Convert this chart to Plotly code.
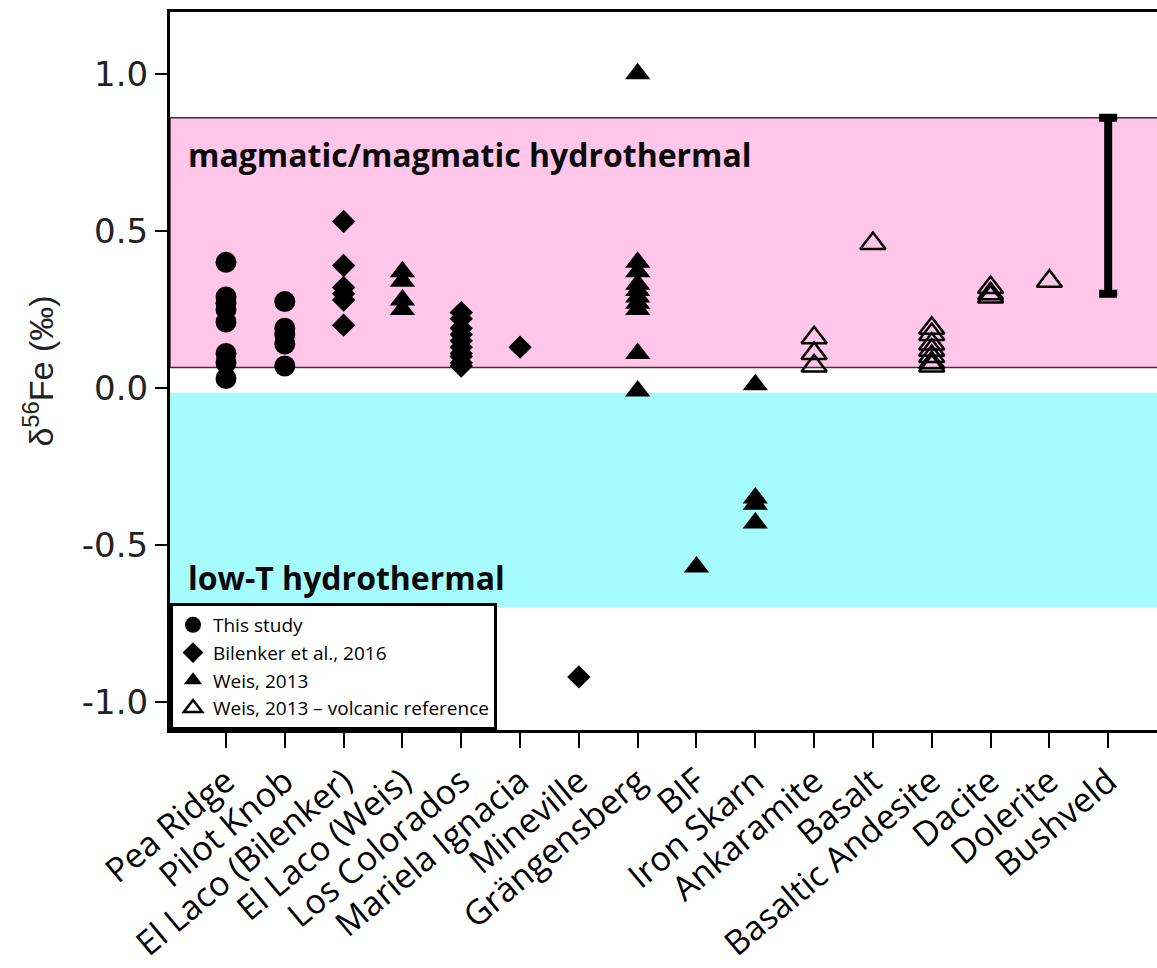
import plotly.graph_objects as go

categories = ["Pea Ridge", "Pilot Knob", "El Laco (Bilenker)", "El Laco (Weis)",
              "Los Colorados", "Mariela Ignacia", "Mineville", "Grängensberg", "BIF",
              "Iron Skarn", "Ankaramite", "Basalt", "Basaltic Andesite", "Dacite",
              "Dolerite", "Bushveld"]

# This study (filled circles)
study_pea_ridge = [0.40, 0.29, 0.27, 0.25, 0.21, 0.11, 0.08, 0.03]
study_pilot_knob = [0.275, 0.19, 0.17, 0.14, 0.07]

# Bilenker et al., 2016 (filled diamonds)
bil_el_laco = [0.53, 0.39, 0.32, 0.30, 0.28, 0.20]
bil_los_colorados = [0.24, 0.22, 0.19, 0.17, 0.15, 0.13, 0.11, 0.10, 0.08, 0.07]
bil_mariela = [0.13]
bil_mineville = [-0.92]

# Weis, 2013 (filled triangles)
weis_el_laco = [0.37, 0.34, 0.28, 0.25]
weis_grangesberg = [1.00, 0.40, 0.37, 0.33, 0.31, 0.29, 0.27, 0.25, 0.11, -0.01]
weis_bif = [-0.57]
weis_iron_skarn = [0.01, -0.35, -0.37, -0.43]

# Weis, 2013 - volcanic reference (open triangles)
volc_ankaramite = [0.16, 0.11, 0.07]
volc_basalt = [0.46]
volc_bas_andesite = [0.19, 0.17, 0.14, 0.12, 0.10, 0.08, 0.07]
volc_dacite = [0.32, 0.30, 0.29]
volc_dolerite = [0.34]

# Bushveld range
bushveld_low, bushveld_high = 0.30, 0.86

# Reference fields
magmatic_band = [0.065, 0.86]
lowT_band = [-0.70, -0.015]


def expand(pairs):
    xs, ys = [], []
    for cat, vals in pairs:
        xs += [cat] * len(vals)
        ys += list(vals)
    return xs, ys


fig = go.Figure()

x1, y1 = expand([("Pea Ridge", study_pea_ridge), ("Pilot Knob", study_pilot_knob)])
x2, y2 = expand([("El Laco (Bilenker)", bil_el_laco), ("Los Colorados", bil_los_colorados),
                 ("Mariela Ignacia", bil_mariela), ("Mineville", bil_mineville)])
x3, y3 = expand([("El Laco (Weis)", weis_el_laco), ("Grängensberg", weis_grangesberg),
                 ("BIF", weis_bif), ("Iron Skarn", weis_iron_skarn)])
x4, y4 = expand([("Ankaramite", volc_ankaramite), ("Basalt", volc_basalt),
                 ("Basaltic Andesite", volc_bas_andesite), ("Dacite", volc_dacite),
                 ("Dolerite", volc_dolerite)])

fig.add_trace(go.Scatter(x=x1, y=y1, mode="markers", name="This study",
                         marker=dict(symbol="circle", size=21, color="black")))
fig.add_trace(go.Scatter(x=x2, y=y2, mode="markers", name="Bilenker et al., 2016",
                         marker=dict(symbol="diamond", size=18, color="black")))
fig.add_trace(go.Scatter(x=x3, y=y3, mode="markers", name="Weis, 2013",
                         marker=dict(symbol="triangle-up", size=22, color="black")))
fig.add_trace(go.Scatter(x=x4, y=y4, mode="markers", name="Weis, 2013 – volcanic reference",
                         marker=dict(symbol="triangle-up-open", size=22, color="black",
                                     line=dict(width=2.5, color="black"))))

fig.add_trace(go.Scatter(x=["Bushveld"], y=[bushveld_low], mode="markers", showlegend=False,
                         marker=dict(size=1, color="rgba(0,0,0,0)"),
                         error_y=dict(type="data", symmetric=False,
                                      array=[bushveld_high - bushveld_low], arrayminus=[0],
                                      color="black", thickness=8, width=9)))

# bands
fig.add_shape(type="rect", xref="paper", yref="y", x0=0, x1=1.01,
              y0=magmatic_band[0], y1=magmatic_band[1], fillcolor="#FFC6EA",
              line=dict(color="#4a2a3a", width=1.5), layer="below")
fig.add_shape(type="rect", xref="paper", yref="y", x0=0, x1=1.01,
              y0=lowT_band[0], y1=lowT_band[1], fillcolor="#A6FBFD",
              line=dict(width=0), layer="below")

fig.add_annotation(text="<b>magmatic/magmatic hydrothermal</b>", xref="paper", yref="y",
                   x=0.016, y=0.742, xanchor="left", yanchor="middle", showarrow=False,
                   font=dict(family="Open Sans", size=32, color="#0a0a0a"))
fig.add_annotation(text="<b>low-T hydrothermal</b>", xref="paper", yref="y",
                   x=0.016, y=-0.605, xanchor="left", yanchor="middle", showarrow=False,
                   font=dict(family="Open Sans", size=32, color="#0a0a0a"))

fig.update_layout(
    width=1157, height=968,
    margin=dict(l=170, r=0, t=12, b=238),
    plot_bgcolor="white", paper_bgcolor="white",
    showlegend=True,
    legend=dict(x=0, y=0, xanchor="left", yanchor="bottom", bgcolor="white",
                bordercolor="black", borderwidth=3, tracegroupgap=0,
                font=dict(family="Open Sans", size=19, color="black"),
                itemsizing="trace"),
    xaxis=dict(type="category", categoryorder="array", categoryarray=categories,
               tickvals=categories, range=[-0.952, 15.83], automargin=False,
               showline=True, linecolor="black", linewidth=3, mirror=True,
               ticks="outside", ticklen=15, tickwidth=2, tickcolor="black",
               tickangle=-40, showgrid=False, zeroline=False,
               tickfont=dict(family="Open Sans", size=34, color="black")),
    yaxis=dict(range=[-1.089, 1.197], tickvals=[-1.0, -0.5, 0.0, 0.5, 1.0],
               ticktext=["-1.0", "-0.5", "0.0", "0.5", "1.0"], automargin=False,
               showline=True, linecolor="black", linewidth=3, mirror=False,
               ticks="outside", ticklen=12, tickwidth=2, tickcolor="black",
               showgrid=False, zeroline=False,
               tickfont=dict(family="DejaVu Sans", size=34, color="#222222"),
               title=dict(text="δ<sup>56</sup>Fe (‰)", standoff=18,
                          font=dict(family="Liberation Sans", size=34, color="#222222"))),
)

fig.write_html("out.html")
